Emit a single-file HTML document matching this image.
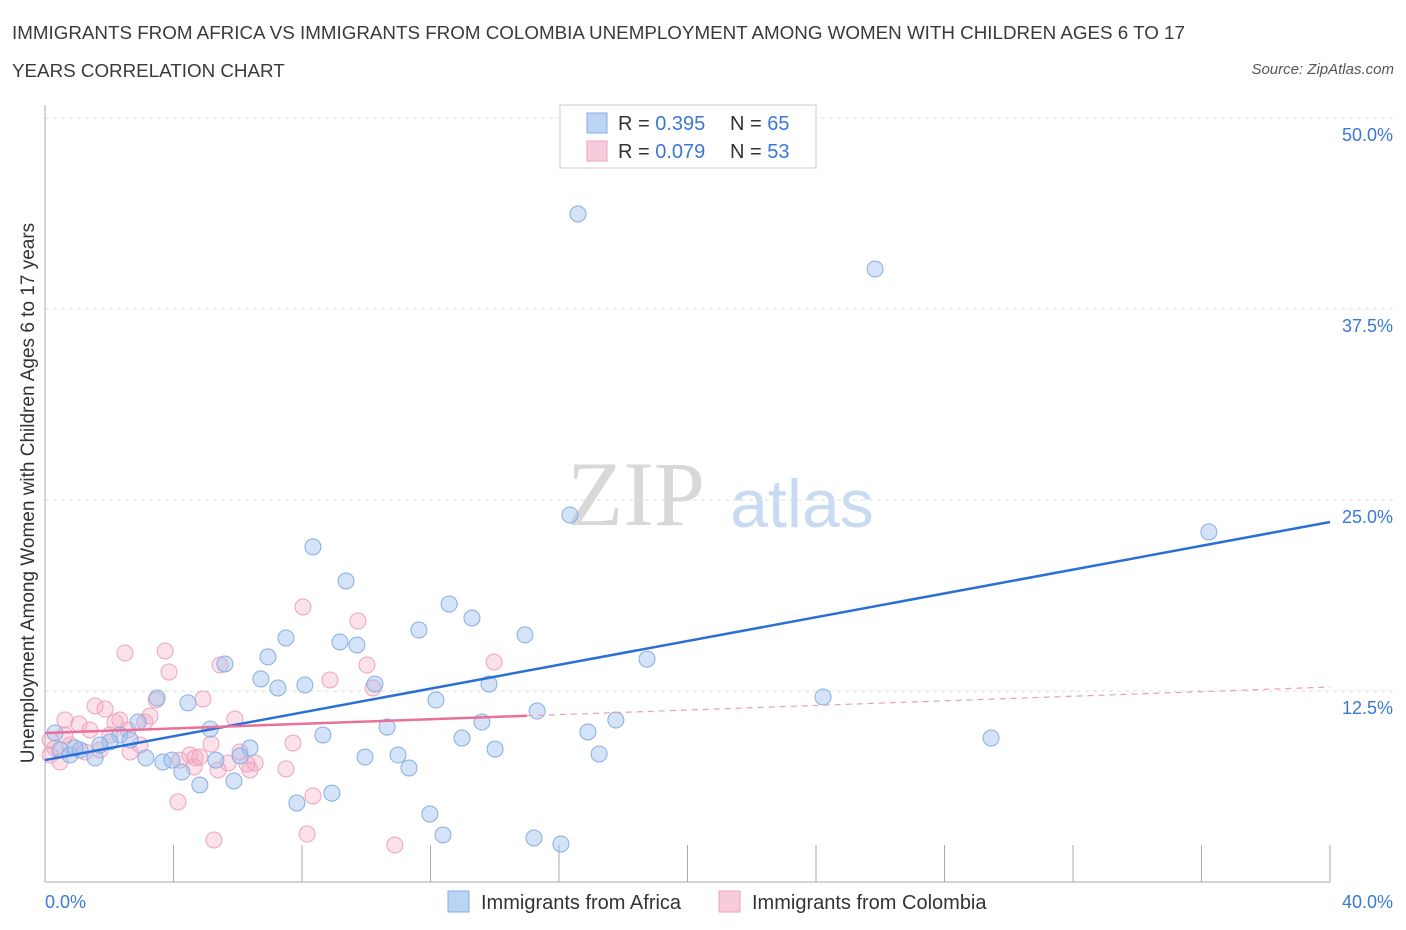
<!DOCTYPE html>
<html><head><meta charset="utf-8"><style>
body{margin:0;background:#fff;font-family:"Liberation Sans",sans-serif;}
#wrap{position:relative;width:1406px;height:930px;overflow:hidden;}
.t{position:absolute;white-space:nowrap;}
</style></head><body>
<div id="wrap">
<div class="t" style="left:12px;top:14px;font-size:18.8px;color:#3a3a3a;line-height:38px;">IMMIGRANTS FROM AFRICA VS IMMIGRANTS FROM COLOMBIA UNEMPLOYMENT AMONG WOMEN WITH CHILDREN AGES 6 TO 17<br>YEARS CORRELATION CHART</div>
<div class="t" style="right:12px;top:61px;font-size:15px;color:#555;font-style:italic;">Source: ZipAtlas.com</div>
<svg id="svg" width="1406" height="930" style="position:absolute;left:0;top:0"></svg>
</div>
<script>
const xAfrica=[16.59,25.84,16.34,36.23,8.34,9.37,12.58,13.29,11.64,14.94,7.50,9.18,9.71,18.74,6.94,5.60,6.72,7.25,8.09,10.27,13.82,24.22,12.17,4.45,3.49,15.32,17.77,13.60,5.14,10.65,16.90,8.65,12.98,29.45,2.90,2.33,2.02,2.65,6.38,14.01,10.99,9.96,17.25,3.14,3.67,3.95,5.32,6.07,4.26,11.33,5.88,4.82,8.93,7.84,11.98,12.39,15.22,16.06,0.31,0.47,0.78,1.09,1.56,1.71,0.93];
const yAfrica=[43.72,40.12,24.02,22.91,21.93,19.70,18.19,17.28,16.49,16.17,15.97,15.71,15.51,14.59,14.73,14.27,13.29,12.70,12.89,12.96,12.96,12.11,11.91,11.72,12.04,11.19,10.60,10.47,10.01,10.14,9.82,9.62,9.42,9.42,10.47,9.62,9.16,9.29,8.77,8.70,8.31,8.18,8.38,8.12,7.85,7.98,7.98,8.25,7.20,7.46,6.61,6.35,5.82,5.17,4.45,3.08,2.88,2.49,9.75,8.64,8.31,8.64,8.12,8.97,8.77];
const xColombia=[8.03,9.74,13.98,2.49,3.74,3.86,5.45,10.02,8.87,10.21,3.46,4.92,1.56,1.87,0.62,1.06,2.18,2.33,3.11,5.91,1.40,2.58,2.02,2.96,5.17,7.72,0.31,0.78,0.16,0.47,1.25,4.20,4.51,4.67,5.70,6.54,6.38,7.50,4.64,4.14,8.34,8.16,5.26,10.89,1.71,2.65,6.07,4.82,5.39,6.29,0.16,0.62,3.27];
const yColombia=[18.00,17.08,14.40,14.99,15.12,13.74,14.20,14.20,13.22,12.70,11.91,11.98,11.52,11.32,10.60,10.34,10.47,10.60,10.47,10.67,9.95,9.95,9.62,8.97,9.03,9.10,8.77,8.97,8.31,7.85,8.51,7.98,8.31,8.12,7.79,7.79,7.33,7.40,7.53,5.24,5.63,3.14,2.75,2.42,8.64,8.51,8.51,8.18,7.33,7.72,9.29,9.62,10.86];
const yTicks=[12.5,25,37.5,50];
const yTickLabels=["12.5%","25.0%","37.5%","50.0%"];
const trendAfrica=[7.98,23.56];
const trendColombia=[9.75,12.76];
const colombiaSolidEnd=15.0;

const X=v=>45+v/40*1285, Y=v=>882-v/50*764;
const svg=document.getElementById('svg');
const NS='http://www.w3.org/2000/svg';
function mk(tag,attrs,parent){const e=document.createElementNS(NS,tag);for(const k in attrs)e.setAttribute(k,attrs[k]);(parent||svg).appendChild(e);return e;}
let wm=mk('text',{x:636,y:525,'font-size':92,'font-family':'Liberation Serif,serif',fill:'#d8d8d8','text-anchor':'middle'});wm.textContent='ZIP';


let wm2=mk('text',{x:802,y:527,'font-size':68,'font-family':'Liberation Sans,sans-serif',fill:'#c9dbf2','text-anchor':'middle'});wm2.textContent='atlas';


yTicks.forEach((v,i)=>{
 let g=mk('line',{x1:45,x2:1395,y1:Y(v),y2:Y(v),stroke:'#dcdcdc','stroke-dasharray':'4 4'});
 
 
 let t=mk('text',{x:1393,y:Y(v)+23,'font-size':18,fill:'#3b78d6','text-anchor':'end','font-family':'Liberation Sans,sans-serif'});t.textContent=yTickLabels[i];
 
 
});
let ax=mk('line',{x1:45,x2:45,y1:105,y2:882,stroke:'#aaa'});


let bx=mk('line',{x1:45,x2:1330,y1:882,y2:882,stroke:'#aaa'});


for(let i=0;i<=10;i++){let tk=mk('line',{x1:X(i*4),x2:X(i*4),y1:845,y2:882,stroke:'#aaa'});
 
 }
[['0.0%',45,'start'],['40.0%',1393,'end']].forEach(a=>{let t=mk('text',{x:a[1],y:908,'font-size':18,fill:'#3b78d6','text-anchor':a[2],'font-family':'Liberation Sans,sans-serif'});t.textContent=a[0];
 
 });
let yt=mk('text',{x:0,y:0,'font-size':19,fill:'#333','text-anchor':'middle','font-family':'Liberation Sans,sans-serif',transform:'translate(34,493) rotate(-90)'});yt.textContent='Unemployment Among Women with Children Ages 6 to 17 years';


xColombia.forEach((v,i)=>{let c=mk('circle',{cx:X(v),cy:Y(yColombia[i]),r:8,fill:'rgba(244,168,196,0.35)',stroke:'#eea3bd','stroke-width':1});
 
 });
xAfrica.forEach((v,i)=>{let c=mk('circle',{cx:X(v),cy:Y(yAfrica[i]),r:8,fill:'rgba(160,194,238,0.45)',stroke:'#86aee0','stroke-width':1});
 
 });
let ta=mk('line',{x1:X(0),y1:Y(trendAfrica[0]),x2:X(40),y2:Y(trendAfrica[1]),stroke:'#2a6fd6','stroke-width':2.5});


const cm=trendColombia[0]+(trendColombia[1]-trendColombia[0])*colombiaSolidEnd/40;
let tc=mk('line',{x1:X(0),y1:Y(trendColombia[0]),x2:X(colombiaSolidEnd),y2:Y(cm),stroke:'#e8709a','stroke-width':2.5});


let td=mk('line',{x1:X(colombiaSolidEnd),y1:Y(cm),x2:X(40),y2:Y(trendColombia[1]),stroke:'#e8a0b8','stroke-width':1.2,'stroke-dasharray':'6 5'});


let lg=mk('rect',{x:560,y:105,width:256,height:63,fill:'#fff',stroke:'#ccc'});


[[0.395,65,'rgba(160,194,238,0.7)','#86aee0',123],[0.079,53,'rgba(244,168,196,0.6)','#eea3bd',151]].forEach(r=>{
 let s=mk('rect',{x:587,y:r[4]-10,width:20,height:20,fill:r[2],stroke:r[3]});
 
 
 let t=mk('text',{x:618,y:r[4]+7,'font-size':20,fill:'#333','font-family':'Liberation Sans,sans-serif'});
 t.innerHTML='R = <tspan fill="#3b78d6">'+r[0].toFixed(3)+'</tspan><tspan x="730">N = </tspan><tspan fill="#3b78d6">'+r[1]+'</tspan>';
 
 
});
[['Immigrants from Africa',448,'rgba(160,194,238,0.7)','#86aee0'],['Immigrants from Colombia',719,'rgba(244,168,196,0.6)','#eea3bd']].forEach(l=>{
 let s=mk('rect',{x:l[1],y:891,width:21,height:21,fill:l[2],stroke:l[3]});
 
 
 let t=mk('text',{x:l[1]+33,y:909,'font-size':20,fill:'#333','font-family':'Liberation Sans,sans-serif'});t.textContent=l[0];
 
 
});
</script>
</body></html>
